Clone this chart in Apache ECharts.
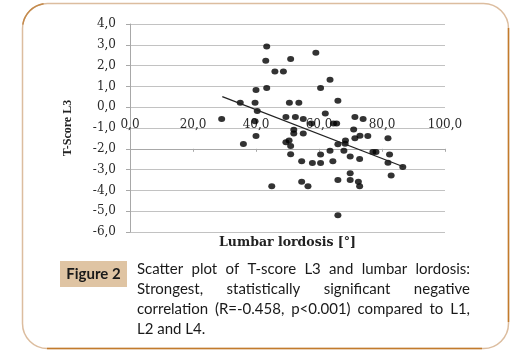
<!DOCTYPE html>
<html>
<head>
<meta charset="utf-8">
<script src="https://cdn.jsdelivr.net/npm/echarts@6/dist/echarts.min.js"></script>
<style>
html,body{margin:0;padding:0;background:#fff;}
#c{width:518px;height:359px;}
</style>
</head>
<body>
<div id="c"></div>
<script>
// Lumbar lordosis [°] (x) and T-score L3 (y)
const lordosis = [29.1,35.0,36.0,39.7,40.0,40.4,39.7,40.0,43.4,43.1,43.4,46.0,48.7,45.0,51.0,50.6,53.6,49.5,52.5,55.0,52.0,52.0,55.0,49.5,50.5,51.0,51.0,54.5,54.5,56.5,57.6,57.9,59.0,60.5,63.5,62.0,60.5,60.5,63.5,64.4,64.6,65.6,66.0,66.0,66.0,66.0,68.4,68.3,67.9,69.9,69.9,69.9,71.0,71.4,74.0,71.4,73.0,75.5,72.9,72.5,72.9,77.1,78.1,81.9,82.4,81.9,82.9,86.6];
const tScoreL3 = [-0.57,0.21,-1.77,0.21,0.83,-0.18,-0.68,-1.38,2.92,2.23,0.92,1.72,1.72,-3.8,2.32,0.21,0.21,-0.47,-0.47,-0.57,-1.08,-1.27,-1.27,-1.68,-1.6,-1.87,-2.26,-2.6,-3.58,-3.8,-0.78,-2.68,2.62,0.92,1.32,-0.3,-2.28,-2.68,-2.09,-2.6,-0.78,-0.78,0.31,-1.78,-3.5,-5.2,-1.6,-1.76,-2.09,-2.37,-3.18,-3.5,-1.07,-0.47,-0.57,-1.49,-1.37,-1.38,-2.49,-3.58,-3.8,-2.15,-2.15,-1.49,-2.27,-2.67,-3.28,-2.88];
const trendX = [29.3, 86.8];
const trendY = [0.51, -2.86];
const xAxisName = "Lumbar lordosis [°]";
const yAxisName = "T-Score L3";
const figureLabel = "Figure 2";
const captionLines = [
  "Scatter plot of T-score L3 and lumbar lordosis:",
  "Strongest, statistically significant negative",
  "correlation (R=-0.458, p<0.001) compared to L1,",
  "L2 and L4."
];

const fmt = v => v.toFixed(1).replace('.', ',');

// caption layout (justified)
const cv = document.createElement('canvas').getContext('2d');
let capSize = 15;
const capLeft = 137, capRight = 470;
function measure(t, size){ cv.font = size + 'px Lato'; return cv.measureText(t).width; }
let maxW = Math.max(...captionLines.map(l => measure(l, capSize)));
if (maxW > capRight - capLeft) capSize = capSize * (capRight - capLeft) / maxW;
const captionEls = [];
captionLines.forEach((line, i) => {
  const words = line.split(' ');
  const ws = words.map(w => measure(w, capSize));
  const total = ws.reduce((a,b)=>a+b,0);
  const last = i === captionLines.length - 1;
  const gap = last ? measure(' ', capSize) : (capRight - capLeft - total) / (words.length - 1);
  let x = capLeft;
  words.forEach((w, j) => {
    captionEls.push({type:'text', x: x, y: 269 + i*20,
      style:{text:w, fill:'#1a1a1a', font: capSize + 'px Lato', verticalAlign:'middle', align:'left'}});
    x += ws[j] + gap;
  });
});

const chart = echarts.init(document.getElementById('c'));
chart.setOption({
  animation:false,
  backgroundColor:'#fff',
  grid:{left:130, right:73, top:24, bottom:127},
  xAxis:{
    type:'value', min:0, max:100, interval:20, position:'bottom',
    axisLine:{show:true, onZero:true, lineStyle:{color:'#a8a8a8', width:1}},
    axisTick:{show:true, length:3, lineStyle:{color:'#a8a8a8'}},
    axisLabel:{formatter:fmt, margin:12, color:'#2a2a2a', fontFamily:'DejaVu Serif', fontSize:12},
    splitLine:{show:false}
  },
  yAxis:{
    type:'value', min:-6, max:4, interval:1,
    name:yAxisName, nameLocation:'middle', nameRotate:90, nameGap:56,
    nameTextStyle:{fontFamily:'Liberation Serif', fontWeight:'bold', fontSize:12, color:'#222'},
    axisLine:{show:true, onZero:false, lineStyle:{color:'#a8a8a8', width:1}},
    axisTick:{show:true, length:4, lineStyle:{color:'#a8a8a8'}},
    axisLabel:{formatter:fmt, margin:14, color:'#2a2a2a', fontFamily:'DejaVu Serif', fontSize:12},
    splitLine:{show:true, lineStyle:{color:'#c2c2c2', width:1}}
  },
  series:[
    {type:'scatter', data: lordosis.map((x,i)=>[x, tScoreL3[i]]), symbol:'circle', symbolSize:[7,6],
     itemStyle:{color:'#000'}, z:3},
    {type:'line', data: trendX.map((x,i)=>[x, trendY[i]]), showSymbol:false, symbol:'none',
     lineStyle:{color:'#222', width:1.2}, z:4}
  ],
  graphic:[
    {type:'rect', shape:{x:22.5, y:3.5, width:486, height:345, r:25}, style:{fill:'none', stroke:'#dcbd9f', lineWidth:1.5}, z:-1},
    {type:'line', shape:{x1:508.5, y1:28, x2:508.5, y2:322}, style:{stroke:'#c27b2c', lineWidth:1.5}, z:-1},
    {type:'line', shape:{x1:47, y1:348.5, x2:482, y2:348.5}, style:{stroke:'#c27b2c', lineWidth:1.5}, z:-1},
    {type:'arc', shape:{cx:47.5, cy:28.5, r:25, startAngle:Math.PI*1.05, endAngle:Math.PI*1.45}, style:{stroke:'#c48a4c', lineWidth:1.5, fill:'none'}, z:-1},
    {type:'text', x:287.5, y:243, style:{text:xAxisName, font:'bold 12.5px "DejaVu Serif"', fill:'#222', align:'center', verticalAlign:'middle'}},
    {type:'rect', shape:{x:60, y:261, width:67, height:26}, style:{fill:'#dfc4a3'}},
    {type:'text', x:93.5, y:274, style:{text:figureLabel, font:'bold 15px Lato', fill:'#1a1a1a', align:'center', verticalAlign:'middle'}},
    ...captionEls
  ]
});
// put the x axis (line + labels) on the y = 0 level, computed from the library's own scale
const zeroPx = chart.convertToPixel({yAxisIndex:0}, 0);
const minPx = chart.convertToPixel({yAxisIndex:0}, -6);
if (isFinite(zeroPx) && isFinite(minPx) && Math.abs(minPx - zeroPx) > 1) {
  chart.setOption({xAxis:{offset: zeroPx - minPx}});
}
</script>
</body>
</html>
